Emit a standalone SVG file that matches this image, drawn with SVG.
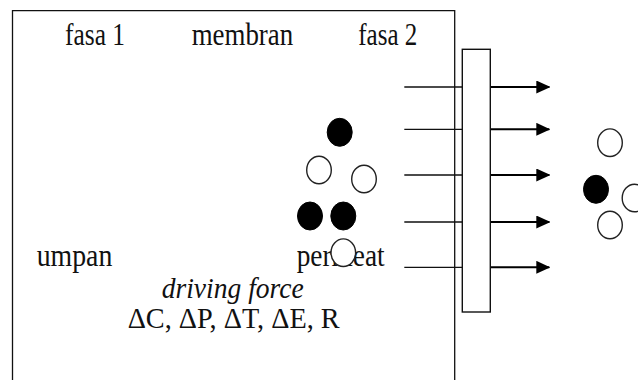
<svg xmlns="http://www.w3.org/2000/svg" width="638" height="380" viewBox="0 0 638 380">
<style>
.t{font-family:"Liberation Serif","Times New Roman",serif;font-size:31px;fill:#111}
.s{font-size:29px}
.i{font-style:italic}
.thin{stroke:#111;stroke-width:1.3;fill:none}
.arr{stroke:#000;stroke-width:2;fill:none}
.f{fill:#000;stroke:#000;stroke-width:1}
.o{fill:#fff;stroke:#222;stroke-width:1.4}
</style>
<defs>
<marker id="ah" viewBox="0 0 14 13" refX="13" refY="6.5" markerWidth="14" markerHeight="13" markerUnits="userSpaceOnUse" orient="auto">
<path d="M0,0 L14,6.5 L0,13 Z" fill="#000"/>
</marker>
</defs>
<rect width="638" height="380" fill="#fff"/>
<g id="box"><path class="thin" d="M12.5,390 V10.7 H454.7 V390" stroke-width="1.4"/></g>
<g id="labels">
<text id="fasa1" class="t" x="65" y="45" textLength="60" lengthAdjust="spacingAndGlyphs">fasa 1</text>
<text id="membran" class="t" x="191.7" y="45" textLength="101.5" lengthAdjust="spacingAndGlyphs">membran</text>
<text id="fasa2" class="t" x="358.3" y="45" textLength="59" lengthAdjust="spacingAndGlyphs">fasa 2</text>
<text id="umpan" class="t" x="36.7" y="266" textLength="75.6" lengthAdjust="spacingAndGlyphs">umpan</text>
<text id="permeat" class="t" x="296.7" y="266" textLength="88" lengthAdjust="spacingAndGlyphs">permeat</text>
<text id="df" class="t s i" x="161.7" y="298.3" textLength="142" lengthAdjust="spacingAndGlyphs">driving force</text>
<text id="delta" class="t s" x="127.7" y="328.3" textLength="212" lengthAdjust="spacingAndGlyphs">ΔC, ΔP, ΔT, ΔE, R</text>
</g>
<g id="connectors">
<path class="thin" d="M404.3,87 H462.3 M404.3,129.3 H462.3 M404.3,175 H462.3 M404.3,222 H462.3 M404.3,267.3 H462.3"/>
<path class="arr" marker-end="url(#ah)" d="M490.3,87 H549.3"/>
<path class="arr" marker-end="url(#ah)" d="M490.3,129.3 H549.3"/>
<path class="arr" marker-end="url(#ah)" d="M490.3,175 H549.3"/>
<path class="arr" marker-end="url(#ah)" d="M490.3,222 H549.3"/>
<path class="arr" marker-end="url(#ah)" d="M490.3,267.3 H549.3"/>
</g>
<g id="membrane"><rect x="462.3" y="49.3" width="28" height="262.7" fill="#fff" stroke="#111" stroke-width="1.4"/></g>
<g id="particles-left">
<ellipse class="f" cx="339.7" cy="132.3" rx="12.5" ry="14"/>
<ellipse class="o" cx="319" cy="170" rx="12.3" ry="13.8"/>
<ellipse class="o" cx="364" cy="179" rx="12.3" ry="13.8"/>
<ellipse class="f" cx="310" cy="216" rx="12.5" ry="14"/>
<ellipse class="f" cx="343.3" cy="216" rx="12.5" ry="14"/>
<ellipse class="o" cx="343.3" cy="252.7" rx="12.3" ry="13.8"/>
</g>
<g id="particles-right">
<ellipse class="o" cx="610" cy="142.7" rx="12.3" ry="13.8"/>
<ellipse class="f" cx="596" cy="189.3" rx="12.5" ry="14"/>
<ellipse class="o" cx="634.5" cy="198" rx="12.3" ry="13.8"/>
<ellipse class="o" cx="610" cy="225" rx="12.3" ry="13.8"/>
</g>
</svg>
